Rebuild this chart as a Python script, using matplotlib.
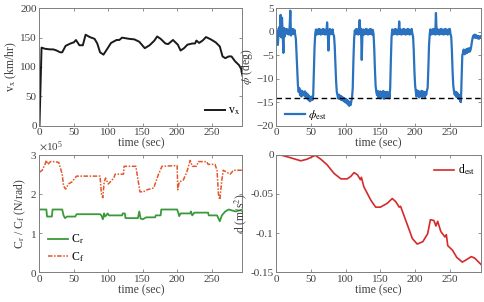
import numpy as np
import matplotlib
matplotlib.use("Agg")
import matplotlib.pyplot as plt
from matplotlib.ticker import ScalarFormatter

# ### data
# vehicle speed (km/hr)
vx_t = [0, 3, 8, 15, 20, 25, 30, 33, 38, 45, 50, 53, 58, 63, 67, 73, 80, 84, 88, 93,
        98, 104, 112, 116, 120, 130, 138, 145, 153, 160, 167, 171, 176, 183, 187, 194,
        201, 205, 210, 215, 222, 226, 228, 232, 237, 242, 249, 256, 262, 266, 270, 275,
        279, 284, 290, 293, 295]
vx = [0, 133, 131, 130, 130, 128, 125, 125, 136, 140, 142, 146, 137, 137, 155, 151,
      148, 140, 125, 121, 130, 141, 146, 146, 150, 148, 147, 143, 132, 137, 145, 152,
      148, 140, 139, 146, 138, 128, 132, 138, 140, 140, 145, 141, 145, 151, 147, 142,
      135, 118, 115, 118, 118, 110, 103, 97, 85]

# roll angle estimate (deg), one value per second
phi_est = [
    0.6, -1.5, -2.8, -0.5, 1.0, -0.8, 3.6, -1.2, 3.0, -0.4,
    -4.5, 0.8, -1.0, 0.5, -0.3, 0.6, -0.5, 0.4, -0.6, 1.0,
    4.5, -0.8, 0.5, -0.4, 0.6, -0.5, 0.4, -0.6, -1.5, -5.0,
    -9.0, -11.5, -12.8, -12.0, -13.5, -12.5, -13.8, -12.6, -13.4, -12.8,
    -13.6, -12.7, -13.9, -13.0, -14.2, -13.3, -14.5, -13.6, -14.8, -13.9,
    -14.6, -13.8, -14.5, -13.5, -8.0, -3.0, -0.3, 0.5, -0.6, 0.4,
    -0.5, 0.6, -0.4, 0.5, -0.6, 0.4, -0.5, 0.6, -0.4, 0.5,
    -0.6, 0.4, -0.5, 2.0, -0.3, -4.0, -0.4, 0.6, -0.5, 0.4,
    -0.5, 0.5, -0.6, -0.8, -3.0, -7.0, -10.5, -12.8, -13.5, -14.2,
    -13.4, -14.3, -13.6, -14.5, -13.8, -14.6, -14.0, -14.8, -14.2, -15.0,
    -14.3, -15.2, -14.5, -15.5, -14.8, -15.8, -15.0, -15.6, -14.8, -14.0,
    -12.0, -6.0, -1.5, 0.3, -0.5, 0.6, -0.4, 0.5, -0.6, 0.4,
    2.5, -0.5, 0.6, -6.0, -0.4, 0.5, -0.6, 0.4, -0.5, 0.6,
    -0.4, 0.5, -0.6, 0.4, -0.5, 0.6, -0.4, 0.5, -0.6, 0.4,
    -0.5, -3.5, -8.0, -11.5, -12.8, -13.5, -12.6, -14.0, -12.8, -13.8,
    -12.7, -14.2, -12.9, -13.6, -12.6, -14.3, -12.8, -13.7, -12.9, -14.0,
    -12.8, -13.8, -13.0, -14.2, -12.0, -6.0, -1.0, 0.5, -0.6, 0.4,
    -0.5, 0.6, -0.4, 0.5, -0.6, 0.4, -0.5, 2.2, -0.4, 0.5,
    -0.6, 0.4, -0.5, 0.6, -0.4, 0.5, -0.6, 0.4, -0.5, 0.6,
    -0.4, 0.5, -0.6, 0.4, -0.5, 0.6, -0.4, -1.0, -4.0, -8.5,
    -11.5, -12.8, -13.8, -12.5, -13.6, -12.7, -14.0, -12.8, -13.5, -12.6,
    -13.9, -12.7, -13.6, -12.8, -14.1, -12.9, -13.4, -12.5, -12.0, -8.0,
    -3.0, -0.5, 0.5, -0.6, 0.4, -0.5, 0.6, -0.4, 0.5, -0.6,
    4.0, -0.4, 0.6, -0.5, 0.4, -0.6, 0.5, -0.4, 0.6, -0.5,
    0.4, -0.6, 0.5, -0.4, 0.6, -0.5, 0.4, -0.6, 0.5, -0.4,
    0.6, -0.5, -1.0, -4.0, -8.5, -11.5, -12.6, -13.4, -12.8, -13.8,
    -12.9, -14.0, -13.2, -14.3, -13.5, -14.8, -15.0, -10.0, -5.0, -4.5,
    -3.8, -4.8, -3.9, -4.6, -3.7, -4.5, -3.6, -4.3, -3.5, -4.2,
    -3.8, -3.0, -2.0, -1.2, -0.8, -1.2, -0.6, -1.3, -0.7, -1.2,
    -1.4, -0.9, -1.5, -1.0, -1.3, -1.0,
]
phi_ref = -14.2

# cornering stiffness (x1e5 N/rad)
cf_t = [0, 4, 8, 10, 12, 16, 21, 28, 33, 35, 38, 42, 47, 54, 88, 90, 92, 94, 96, 100,
        108, 110, 122, 123, 140, 146, 151, 156, 166, 173, 178, 200, 201, 203, 209, 214,
        219, 222, 228, 231, 243, 245, 255, 258, 260, 262, 265, 267, 277, 282, 291, 295]
cf = [2.55, 2.6, 2.75, 2.85, 2.75, 2.82, 2.82, 2.8, 2.5, 2.2, 2.12, 2.25, 2.3, 2.45,
      2.45, 2.0, 1.9, 2.3, 2.4, 2.25, 2.4, 2.5, 2.5, 2.7, 2.7, 2.05, 2.05, 2.1, 2.15,
      2.5, 2.7, 2.72, 2.1, 2.3, 2.35, 2.55, 2.85, 2.7, 2.7, 2.82, 2.82, 2.75, 2.75,
      2.6, 2.0, 1.85, 2.35, 2.6, 2.5, 2.6, 2.6, 2.6]
cr_t = [0, 10, 11, 18, 19, 33, 35, 37, 40, 52, 54, 88, 90, 92, 94, 95, 97, 99, 101,
        120, 121, 124, 125, 143, 145, 147, 150, 155, 168, 169, 176, 177, 200, 202, 203,
        205, 219, 220, 222, 225, 245, 246, 258, 262, 265, 270, 275, 285, 295]
cr = [1.6, 1.6, 1.42, 1.42, 1.6, 1.6, 1.45, 1.38, 1.42, 1.42, 1.48, 1.48, 1.45, 1.35,
      1.5, 1.42, 1.45, 1.5, 1.45, 1.45, 1.5, 1.5, 1.38, 1.38, 1.55, 1.37, 1.35, 1.4,
      1.4, 1.45, 1.45, 1.6, 1.6, 1.5, 1.43, 1.5, 1.5, 1.55, 1.45, 1.52, 1.52, 1.45,
      1.45, 1.3, 1.45, 1.55, 1.6, 1.55, 1.6]

# disturbance estimate (m/s^2)
d_t = [0, 8, 20, 35, 44, 56, 64, 73, 83, 93, 102, 107, 112, 117, 121, 122.5, 126, 136,
       143, 150, 160, 167, 172, 177, 179, 189, 196, 203, 211, 218, 222, 227, 230, 232.5,
       237, 243, 245, 247, 254, 260, 268, 272, 281, 286, 295]
d_est = [0, -0.001, -0.004, -0.008, -0.006, -0.001, -0.006, -0.013, -0.024, -0.031,
         -0.031, -0.028, -0.023, -0.026, -0.032, -0.029, -0.041, -0.058, -0.067, -0.067,
         -0.062, -0.056, -0.060, -0.067, -0.066, -0.090, -0.107, -0.114, -0.111, -0.101,
         -0.083, -0.084, -0.091, -0.085, -0.098, -0.105, -0.102, -0.116, -0.122, -0.131,
         -0.137, -0.135, -0.130, -0.132, -0.140]

plt.rcParams['font.family'] = ['Liberation Serif', 'DejaVu Serif']
plt.rcParams['mathtext.fontset'] = 'stix'
plt.rcParams['font.size'] = 8

GRAY = '#7f7f7f'
TXT = '#404040'
LEG = dict(frameon=False, fontsize=8.5, handlelength=1.7, handletextpad=0.3,
           borderaxespad=0.0, borderpad=0.0)

fig = plt.figure(figsize=(4.85, 3.02), dpi=100)
boxes = [
    [0.0814, 0.584, 0.4186, 0.3885],
    [0.570, 0.584, 0.4218, 0.3885],
    [0.0814, 0.0983, 0.4186, 0.390],
    [0.570, 0.0983, 0.4218, 0.390],
]
axs = [fig.add_axes(b) for b in boxes]

for ax in axs:
    ax.set_xlim(0, 295)
    ax.set_xticks([0, 50, 100, 150, 200, 250])
    ax.tick_params(direction='in', top=True, right=True, length=2.5, width=0.6,
                   colors=GRAY, labelcolor=TXT, labelsize=8, pad=2)
    for s in ax.spines.values():
        s.set_color(GRAY)
        s.set_linewidth(0.7)
    ax.set_xlabel('time (sec)', color=TXT, fontsize=8.5, labelpad=0)

# vx
ax = axs[0]
ax.plot(vx_t, vx, color='#1a1a1a', lw=1.4, label=r'v$_{\rm x}$')
ax.set_ylim(0, 200)
ax.set_yticks([0, 50, 100, 150, 200])
ax.set_ylabel(r'v$_{\rm x}$ (km/hr)', color=TXT, fontsize=8.5, labelpad=1)
ax.legend(loc='lower right', bbox_to_anchor=(0.99, 0.07), **LEG)

# phi
ax = axs[1]
t_phi = np.arange(len(phi_est))
ax.plot(t_phi, phi_est, color='#2a72bf', lw=1.6, label=r'$\phi_{\rm est}$')
ax.axhline(phi_ref, color='black', ls=(0, (4, 2.5)), lw=1.0)
ax.set_ylim(-20, 5)
ax.set_yticks([-20, -15, -10, -5, 0, 5])
ax.set_ylabel(r'$\phi$ (deg)', color=TXT, fontsize=8.5, labelpad=1)
ax.legend(loc='lower left', bbox_to_anchor=(0.04, 0.03), **LEG)

# cornering stiffness
ax = axs[2]
ax.plot(cr_t, np.array(cr) * 1e5, color='#3a9a3a', lw=1.3, label=r'C$_{\rm r}$')
ax.plot(cf_t, np.array(cf) * 1e5, color='#e3562a', lw=1.1, ls=(0, (3, 1, 1, 1)),
        label=r'C$_{\rm f}$')
ax.set_ylim(0, 3e5)
ax.set_yticks([0, 1e5, 2e5, 3e5])
fmt = ScalarFormatter(useMathText=True)
fmt.set_powerlimits((0, 0))
ax.yaxis.set_major_formatter(fmt)
ax.yaxis.get_offset_text().set_color(TXT)
ax.yaxis.get_offset_text().set_fontsize(8)
ax.set_ylabel(r'C$_{\rm r}$ / C$_{\rm f}$ (N/rad)', color=TXT, fontsize=8.5, labelpad=1)
ax.legend(loc='lower left', bbox_to_anchor=(0.04, 0.07), labelspacing=0.35, **LEG)

# disturbance
ax = axs[3]
ax.plot(d_t, d_est, color='#d42a2a', lw=1.2, label=r'd$_{\rm est}$')
ax.set_ylim(-0.15, 0)
ax.set_yticks([-0.15, -0.1, -0.05, 0])
ax.set_yticklabels(['-0.15', '-0.1', '-0.05', '0'])
ax.set_ylabel(r'd (m/s$^2$)', color=TXT, fontsize=8.5, labelpad=1)
ax.legend(loc='upper right', bbox_to_anchor=(0.97, 0.93), **LEG)

fig.savefig('out.png', dpi=100)
